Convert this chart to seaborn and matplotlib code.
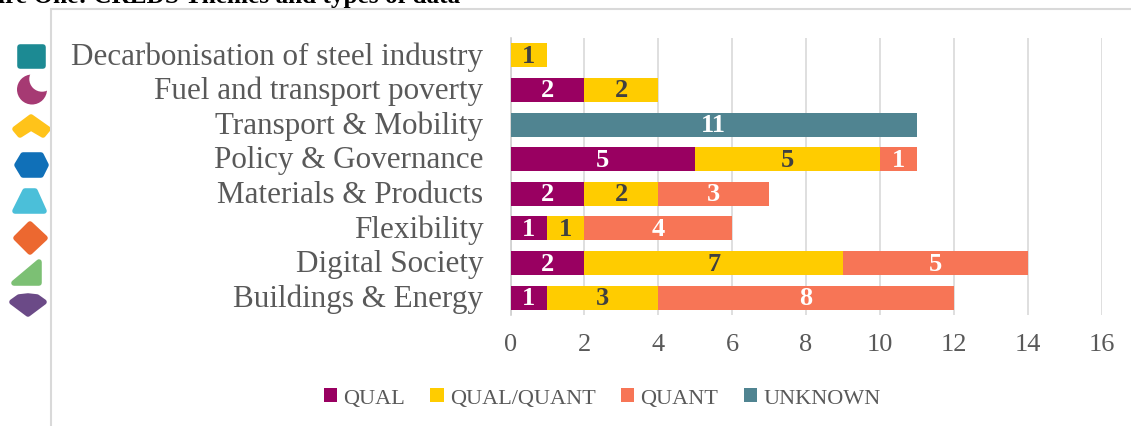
# stacked bars of CREDS themes and data types
import matplotlib
matplotlib.use('Agg')
import matplotlib.pyplot as plt
from matplotlib.patches import Circle, Polygon
from matplotlib.transforms import ScaledTranslation
import numpy as np
import pandas as pd
import seaborn as sns

themes = ['Decarbonisation of steel industry', 'Fuel and transport poverty',
          'Transport & Mobility', 'Policy & Governance', 'Materials & Products',
          'Flexibility', 'Digital Society', 'Buildings & Energy']
qual = [0, 2, 0, 5, 2, 1, 2, 1]
qual_quant = [1, 2, 0, 5, 2, 1, 7, 3]
quant = [0, 0, 0, 1, 3, 4, 5, 8]
unknown = [0, 0, 11, 0, 0, 0, 0, 0]
series_names = ['QUAL', 'QUAL/QUANT', 'QUANT', 'UNKNOWN']
xticks = [0, 2, 4, 6, 8, 10, 12, 14, 16]

colors = ['#990061', '#FFCC00', '#F77556', '#508491']
label_colors = ['white', '#404040', 'white', 'white']

sns.set_theme(style='white')
plt.rcParams['font.family'] = ['Liberation Serif', 'DejaVu Serif']

W, H = 1131, 427
fig = plt.figure(figsize=(W / 100, H / 100), dpi=100)

# background layer in pixels, for the icons and the frame
bg = fig.add_axes([0, 0, 1, 1])
bg.set_xlim(0, W)
bg.set_ylim(H, 0)
bg.axis('off')

def icon(points, color):
    bg.add_patch(Polygon(points, closed=True, fc=color, ec=color, lw=4, joinstyle='round'))

# moon first, its white cut-out must not bite the square above it
bg.add_patch(Circle((32, 90.5), 15, fc='#A63A73', ec='none'))
bg.add_patch(Circle((42, 80), 12.7, fc='white', ec='none'))
icon([(20, 48), (43, 48), (43, 67), (20, 67)], '#1C8A93')
icon([(15, 130), (31, 118), (48, 130), (43, 136), (31, 129), (20, 136)], '#FFC31A')
icon([(17, 166), (23, 156), (41, 156), (46, 166), (41, 176), (23, 176)], '#1070B8')
icon([(15, 212), (25, 192), (35, 192), (44, 212)], '#4BBFD9')
icon([(16, 239), (30, 225), (45, 239), (30, 253)], '#EC6830')
icon([(14, 284), (39, 263), (39, 284)], '#7CC074')
icon([(12, 303), (19, 298), (28, 297), (37, 298), (44, 303), (28, 315)], '#6B4A87')

bg.plot([51, 51, W], [H, 9.5, 9.5], color='#D9D9D9', lw=1.5, solid_joinstyle='miter')
bg.text(460, 3.5, 'Figure One: CREDS Themes and types of data', ha='right', va='baseline',
        fontsize=18.2, fontweight='bold', color='black', clip_on=False)

ax = fig.add_axes([510.5 / W, 1 - 316 / H, 591 / W, (316 - 39) / H])
ax.patch.set_alpha(0)

all_values = [qual, qual_quant, quant, unknown]
left = np.zeros(len(themes))
for name, values, color, txt in zip(series_names, all_values, colors, label_colors):
    df = pd.DataFrame({'theme': themes, 'count': values})
    n = len(ax.containers)
    sns.barplot(data=df, y='theme', x='count', order=themes, color=color, saturation=1,
                width=0.69, left=left, label=name, errorbar=None, linewidth=0, ax=ax, zorder=3)
    labels = [str(v) if v > 0 else '' for v in values]
    ax.bar_label(ax.containers[n], labels=labels, label_type='center', color=txt,
                 fontsize=19, fontweight='bold', zorder=4)
    left = left + np.array(values)

ax.set_xlim(0, 16)
ax.set_ylim(7.5, -0.5)
ax.set_xticks(xticks)
ax.set_xlabel('')
ax.set_ylabel('')
ax.grid(axis='x', color='#D9D9D9', lw=1.2, zorder=0)
ax.set_axisbelow(True)
for s in ['top', 'right', 'bottom']:
    ax.spines[s].set_visible(False)
ax.spines['left'].set_color('#D0D0D0')
ax.spines['left'].set_linewidth(1.2)
ax.tick_params(axis='y', length=0, pad=19.5, labelsize=22.4, labelcolor='#595959')
ax.tick_params(axis='x', length=0, pad=13, labelsize=19, labelcolor='#595959')
# nudge the theme names up a little, they sit low against the bars
nudge = ScaledTranslation(0, 3 / 100, fig.dpi_scale_trans)
for lab in ax.get_yticklabels():
    lab.set_transform(lab.get_transform() + nudge)

ax.legend(loc='center', bbox_to_anchor=(602 / W, 1 - 399 / H), bbox_transform=fig.transFigure,
          ncol=4, frameon=False, fontsize=16, labelcolor='#595959', handlelength=0.6,
          handleheight=0.6, handletextpad=0.27, columnspacing=1.15, borderpad=0)

fig.savefig('out.png', dpi=100)
